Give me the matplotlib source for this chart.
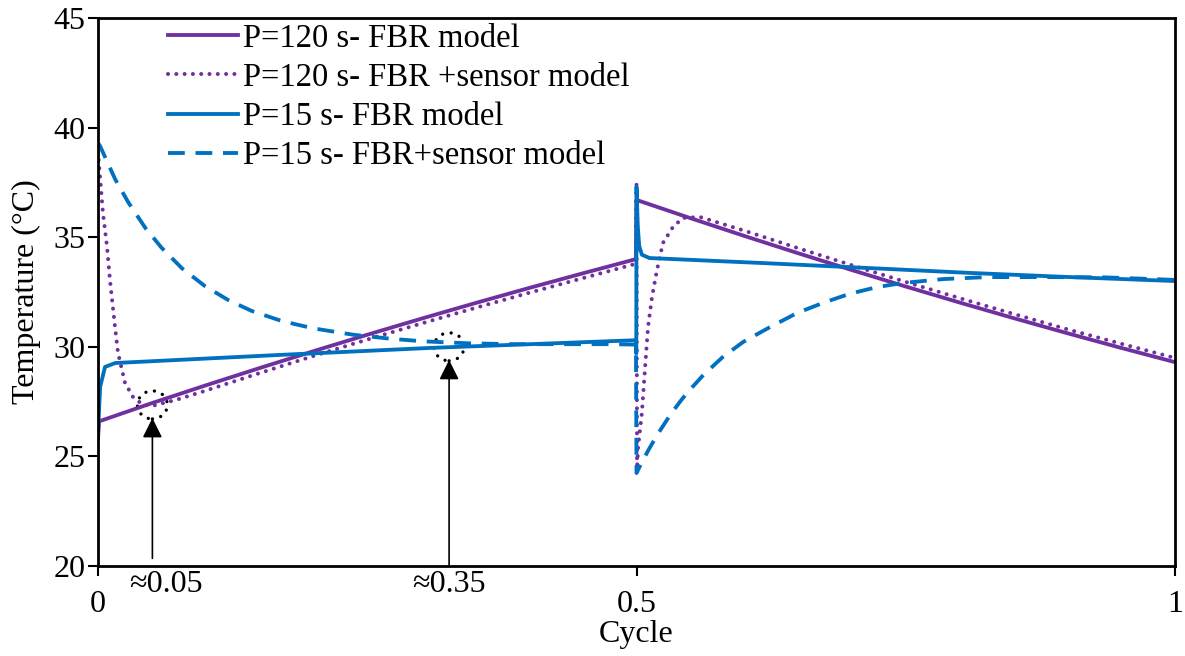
import matplotlib
matplotlib.use("Agg")
import matplotlib.pyplot as plt
from matplotlib.patches import Ellipse

plt.rcParams['font.family'] = ['Liberation Serif', 'DejaVu Serif']

# P=120 s - FBR model
fbr120_x = [0, 0.001, 0.05, 0.1, 0.15, 0.2, 0.25, 0.3, 0.35, 0.4, 0.45, 0.4995,
            0.5, 0.55, 0.6, 0.65, 0.7, 0.75, 0.8, 0.85, 0.9, 0.95, 1.0]
fbr120_y = [25.8, 26.6, 27.43, 28.24, 29.03, 29.80, 30.55, 31.28, 31.99, 32.68, 33.35, 34.0,
            36.7, 35.87, 35.06, 34.27, 33.50, 32.75, 32.02, 31.31, 30.62, 29.95, 29.30]

# P=120 s - FBR + sensor model
sens120_x = [0, 0.0019, 0.0046, 0.0084, 0.0111, 0.0158, 0.0186, 0.0251, 0.0325, 0.041,
             0.05, 0.074, 0.1, 0.15, 0.2, 0.25, 0.3, 0.35, 0.4, 0.45, 0.4967, 0.4995,
             0.5, 0.5005, 0.5015, 0.505, 0.508, 0.5107, 0.5144, 0.519, 0.5246, 0.5339,
             0.5432, 0.559, 0.6, 0.65, 0.7, 0.75, 0.8, 0.85, 0.9, 0.95, 1.0]
sens120_y = [38.9, 37.75, 36.1, 34.55, 33.05, 30.9, 29.72, 28.35, 27.71, 27.38,
             27.3, 27.6, 28.0, 28.8, 29.58, 30.33, 31.06, 31.77, 32.46, 33.13, 33.75, 33.77,
             37.4, 24.4, 25.43, 26.98, 29.08, 30.9, 32.27, 33.5, 34.74, 35.47,
             35.88, 35.92, 35.3, 34.5, 33.72, 32.96, 32.22, 31.5, 30.8, 30.14, 29.49]

# P=15 s - FBR model
fbr15_x = [0, 0.002, 0.0065, 0.016, 0.169, 0.309, 0.4995, 0.4998,
           0.5, 0.5012, 0.5025, 0.505, 0.512, 0.6175, 0.717, 0.8097, 0.9025, 1.0]
fbr15_y = [26.07, 28.17, 29.08, 29.26, 29.63, 29.95, 30.3, 29.7,
           37.3, 35.5, 34.6, 34.2, 34.05, 33.82, 33.59, 33.37, 33.18, 33.0]

# P=15 s - FBR + sensor model
sens15_x = [0, 0.002, 0.016, 0.028, 0.044, 0.059, 0.078, 0.099, 0.121, 0.143, 0.171,
            0.200, 0.237, 0.271, 0.302, 0.343, 0.385, 0.432, 0.478, 0.4995,
            0.5, 0.506, 0.512, 0.52, 0.531, 0.54, 0.547, 0.562, 0.580, 0.599, 0.624,
            0.649, 0.673, 0.698, 0.723, 0.747, 0.785, 0.825, 0.872, 0.933, 0.980, 1.0]
sens15_y = [39.3, 39.15, 37.64, 36.6, 35.42, 34.52, 33.58, 32.78, 32.13, 31.63, 31.17,
            30.84, 30.55, 30.37, 30.25, 30.16, 30.12, 30.12, 30.12, 30.1,
            24.24, 24.83, 25.37, 26.04, 26.87, 27.47, 27.9, 28.71, 29.53, 30.22, 30.9,
            31.54, 32.0, 32.42, 32.72, 32.91, 33.09, 33.18, 33.18, 33.17, 33.09, 33.05]

labels = ['P=120 s- FBR model', 'P=120 s- FBR +sensor model',
          'P=15 s- FBR model', 'P=15 s- FBR+sensor model']

purple = '#7030A0'
blue = '#0070C0'

fig = plt.figure(figsize=(11.85, 6.56), dpi=100)
ax = fig.add_axes([98/1185, 1 - 566/656, 1077/1185, 548/656])

ax.plot(fbr120_x, fbr120_y, color=purple, lw=2.75, label=labels[0])
ax.plot(sens120_x, sens120_y, color=purple, lw=2.9, linestyle=(0, (0.01, 2.05)),
        dash_capstyle='round', label=labels[1])
ax.plot(fbr15_x, fbr15_y, color=blue, lw=2.75, label=labels[2])
ax.plot(sens15_x, sens15_y, color=blue, lw=2.75, linestyle=(0, (4.4, 2.8)),
        label=labels[3])

ax.set_xlim(0, 1)
ax.set_ylim(20, 45)
ax.set_xticks([0, 0.5, 1])
ax.set_xticklabels(['0', '0.5', '1'])
ax.set_yticks([20, 25, 30, 35, 40, 45])
ax.tick_params(axis='both', direction='out', length=7, width=1.5, labelsize=23)
ax.tick_params(axis='x', pad=10)
ax.tick_params(axis='y', pad=2)
for s in ax.spines.values():
    s.set_linewidth(2)

ax.set_xlabel('Cycle', fontsize=23, labelpad=1)
ax.set_ylabel('Temperature (°C)', fontsize=23, labelpad=9)

# circled points and arrows
circ_x = [0.0505, 0.326]
circ_y = [27.35, 30.0]
for cx, cy in zip(circ_x, circ_y):
    ax.add_patch(Ellipse((cx, cy), 30/1077, 28/21.92, fill=False, ec='black',
                         lw=2.4, linestyle=(0, (0.01, 2.6)), capstyle='round'))
arrow_bottom = [20.35, 20.0]
for cx, cy, yb in zip(circ_x, circ_y, arrow_bottom):
    ax.annotate('', xy=(cx, cy - 0.6), xytext=(cx, yb),
                arrowprops=dict(arrowstyle='-|>', color='black', lw=1.2,
                                mutation_scale=30, shrinkA=0, shrinkB=0),
                annotation_clip=False)
ax.text(0.063, 19.15, '≈0.05', fontsize=23, ha='center', va='center', clip_on=False)
ax.text(0.326, 19.15, '≈0.35', fontsize=23, ha='center', va='center', clip_on=False)

ax.legend(loc='upper left', bbox_to_anchor=(155/1185, 1 - 10/656),
          bbox_transform=fig.transFigure, frameon=False, fontsize=23.5,
          handlelength=2.15, handletextpad=0.15, labelspacing=0.27, borderaxespad=0)

fig.savefig('out.png', dpi=100)
